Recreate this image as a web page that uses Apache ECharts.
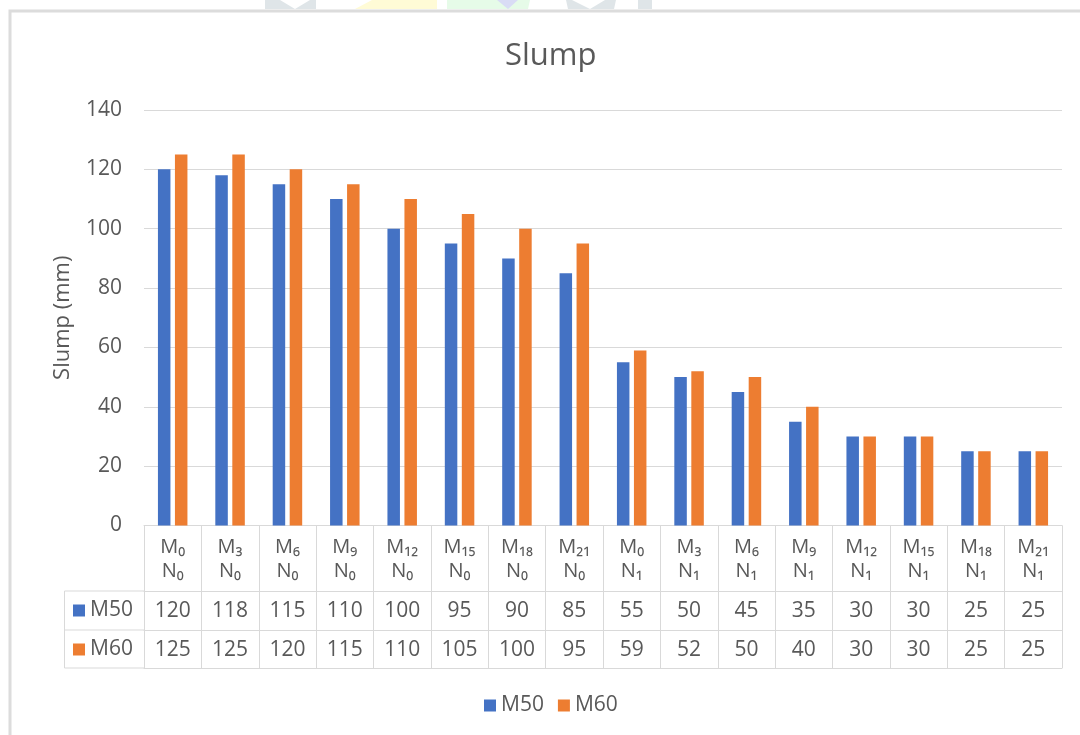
<!DOCTYPE html>
<html>
<head>
<meta charset="utf-8">
<script src="https://cdn.jsdelivr.net/npm/echarts@6/dist/echarts.min.js"></script>
<style>
html,body{margin:0;padding:0;background:#fff;}
#c{width:1080px;height:735px;}
</style>
</head>
<body>
<div id="c"></div>
<script>
const mLabels = ['M₀','M₃','M₆','M₉','M₁₂','M₁₅','M₁₈','M₂₁','M₀','M₃','M₆','M₉','M₁₂','M₁₅','M₁₈','M₂₁'];
const nLabels = ['N₀','N₀','N₀','N₀','N₀','N₀','N₀','N₀','N₁','N₁','N₁','N₁','N₁','N₁','N₁','N₁'];
const m50 = [120,118,115,110,100,95,90,85,55,50,45,35,30,30,25,25];
const m60 = [125,125,120,115,110,105,100,95,59,52,50,40,30,30,25,25];
const seriesNames = ['M50','M60'];
const yTicks = {min:0, max:140, interval:20};

const categories = mLabels.map((m,i)=> m + '\n' + nLabels[i]);
const FONT = '"Open Sans", "DejaVu Sans", sans-serif';
const GRAY = '#595959';
const LINE = '#d9d9d9';
const BLUE = '#4472C4';
const ORANGE = '#ED7D31';

const chart = echarts.init(document.getElementById('c'), null, {renderer:'canvas'});

function tableAxis(offset, values){
  return {
    type:'category', data:categories, gridIndex:0, position:'bottom', offset:offset,
    axisLine:{show:true, lineStyle:{color:LINE, width:1}},
    axisTick:{show:false}, splitLine:{show:false},
    axisLabel:{interval:0, margin:10, fontSize:21, color:GRAY, fontFamily:FONT,
      formatter:(v,i)=> String(values[i])}
  };
}

const option = {
  backgroundColor:'#fff',
  animation:false,
  color:[BLUE, ORANGE],
  textStyle:{fontFamily:FONT},
  title:{text:'Slump', left:505, top:41, padding:0,
    textStyle:{fontSize:31, fontWeight:'normal', color:GRAY, fontFamily:FONT}},
  grid:{left:144, right:18, top:110, bottom:209.5, containLabel:false},
  legend:[
    {data:seriesNames, left:484, top:695, padding:0, icon:'rect', itemWidth:12, itemHeight:12, itemGap:14,
      selectedMode:false, textStyle:{fontSize:21, color:GRAY, fontFamily:FONT}},
    {data:[seriesNames[0]], left:73, top:600, padding:0, icon:'rect', itemWidth:12, itemHeight:12,
      selectedMode:false, textStyle:{fontSize:21, color:GRAY, fontFamily:FONT}},
    {data:[seriesNames[1]], left:73, top:639, padding:0, icon:'rect', itemWidth:12, itemHeight:12,
      selectedMode:false, textStyle:{fontSize:21, color:GRAY, fontFamily:FONT}}
  ],
  xAxis:[
    {type:'category', data:categories, boundaryGap:true,
      axisLine:{show:true, lineStyle:{color:LINE, width:1}},
      axisTick:{show:true, interval:0, length:142.5, lineStyle:{color:LINE, width:1}},
      axisLabel:{interval:0, margin:10, fontSize:20, lineHeight:24, color:GRAY, fontFamily:FONT}},
    tableAxis(65.5, m50),
    tableAxis(104.5, m60),
    {type:'category', data:categories, gridIndex:0, position:'bottom', offset:142.5,
      axisLine:{show:true, lineStyle:{color:LINE, width:1}}, axisTick:{show:false}, axisLabel:{show:false}}
  ],
  yAxis:{type:'value', min:yTicks.min, max:yTicks.max, interval:yTicks.interval,
    name:'Slump (mm)', nameLocation:'middle', nameGap:70, nameRotate:90,
    nameTextStyle:{fontSize:22, color:GRAY, fontFamily:FONT},
    axisLine:{show:false}, axisTick:{show:false},
    axisLabel:{fontSize:21, color:GRAY, margin:22, fontFamily:FONT},
    splitLine:{lineStyle:{color:LINE, width:1}}},
  series:[
    {name:seriesNames[0], type:'bar', data:m50, barWidth:12.5, barGap:'36%', itemStyle:{color:BLUE}},
    {name:seriesNames[1], type:'bar', data:m60, barWidth:12.5, itemStyle:{color:ORANGE}}
  ],
  graphic:[
    {type:'rect', shape:{x:10, y:11, width:1200, height:900}, style:{fill:null, stroke:'#dcdcdc', lineWidth:3}, z:-1},
    {type:'polygon', shape:{points:[[265,0],[280,0],[295,9],[310,0],[316,0],[316,9],[265,9]]}, style:{fill:'#dfe5e8'}, z:-2},
    {type:'polygon', shape:{points:[[355,9],[372,0],[437,0],[437,9]]}, style:{fill:'#fffbd6'}, z:-2},
    {type:'polygon', shape:{points:[[447,0],[530,0],[528,9],[447,9]]}, style:{fill:'#e6fbe8'}, z:-2},
    {type:'polygon', shape:{points:[[497,0],[518,0],[508,9]]}, style:{fill:'#d9dcf5'}, z:-2},
    {type:'polygon', shape:{points:[[566,0],[572,0],[590,9],[568,9]]}, style:{fill:'#dfe5e8'}, z:-2},
    {type:'polygon', shape:{points:[[590,9],[605,0],[616,0],[614,9]]}, style:{fill:'#dfe5e8'}, z:-2},
    {type:'rect', shape:{x:638, y:0, width:14, height:9}, style:{fill:'#dfe5e8'}, z:-2},
    {type:'line', shape:{x1:64.5, y1:591, x2:144, y2:591}, style:{stroke:LINE, lineWidth:1}},
    {type:'line', shape:{x1:64.5, y1:630, x2:144, y2:630}, style:{stroke:LINE, lineWidth:1}},
    {type:'line', shape:{x1:64.5, y1:668, x2:144, y2:668}, style:{stroke:LINE, lineWidth:1}},
    {type:'line', shape:{x1:64.5, y1:591, x2:64.5, y2:668}, style:{stroke:LINE, lineWidth:1}}
  ]
};
chart.setOption(option);
</script>
</body>
</html>
